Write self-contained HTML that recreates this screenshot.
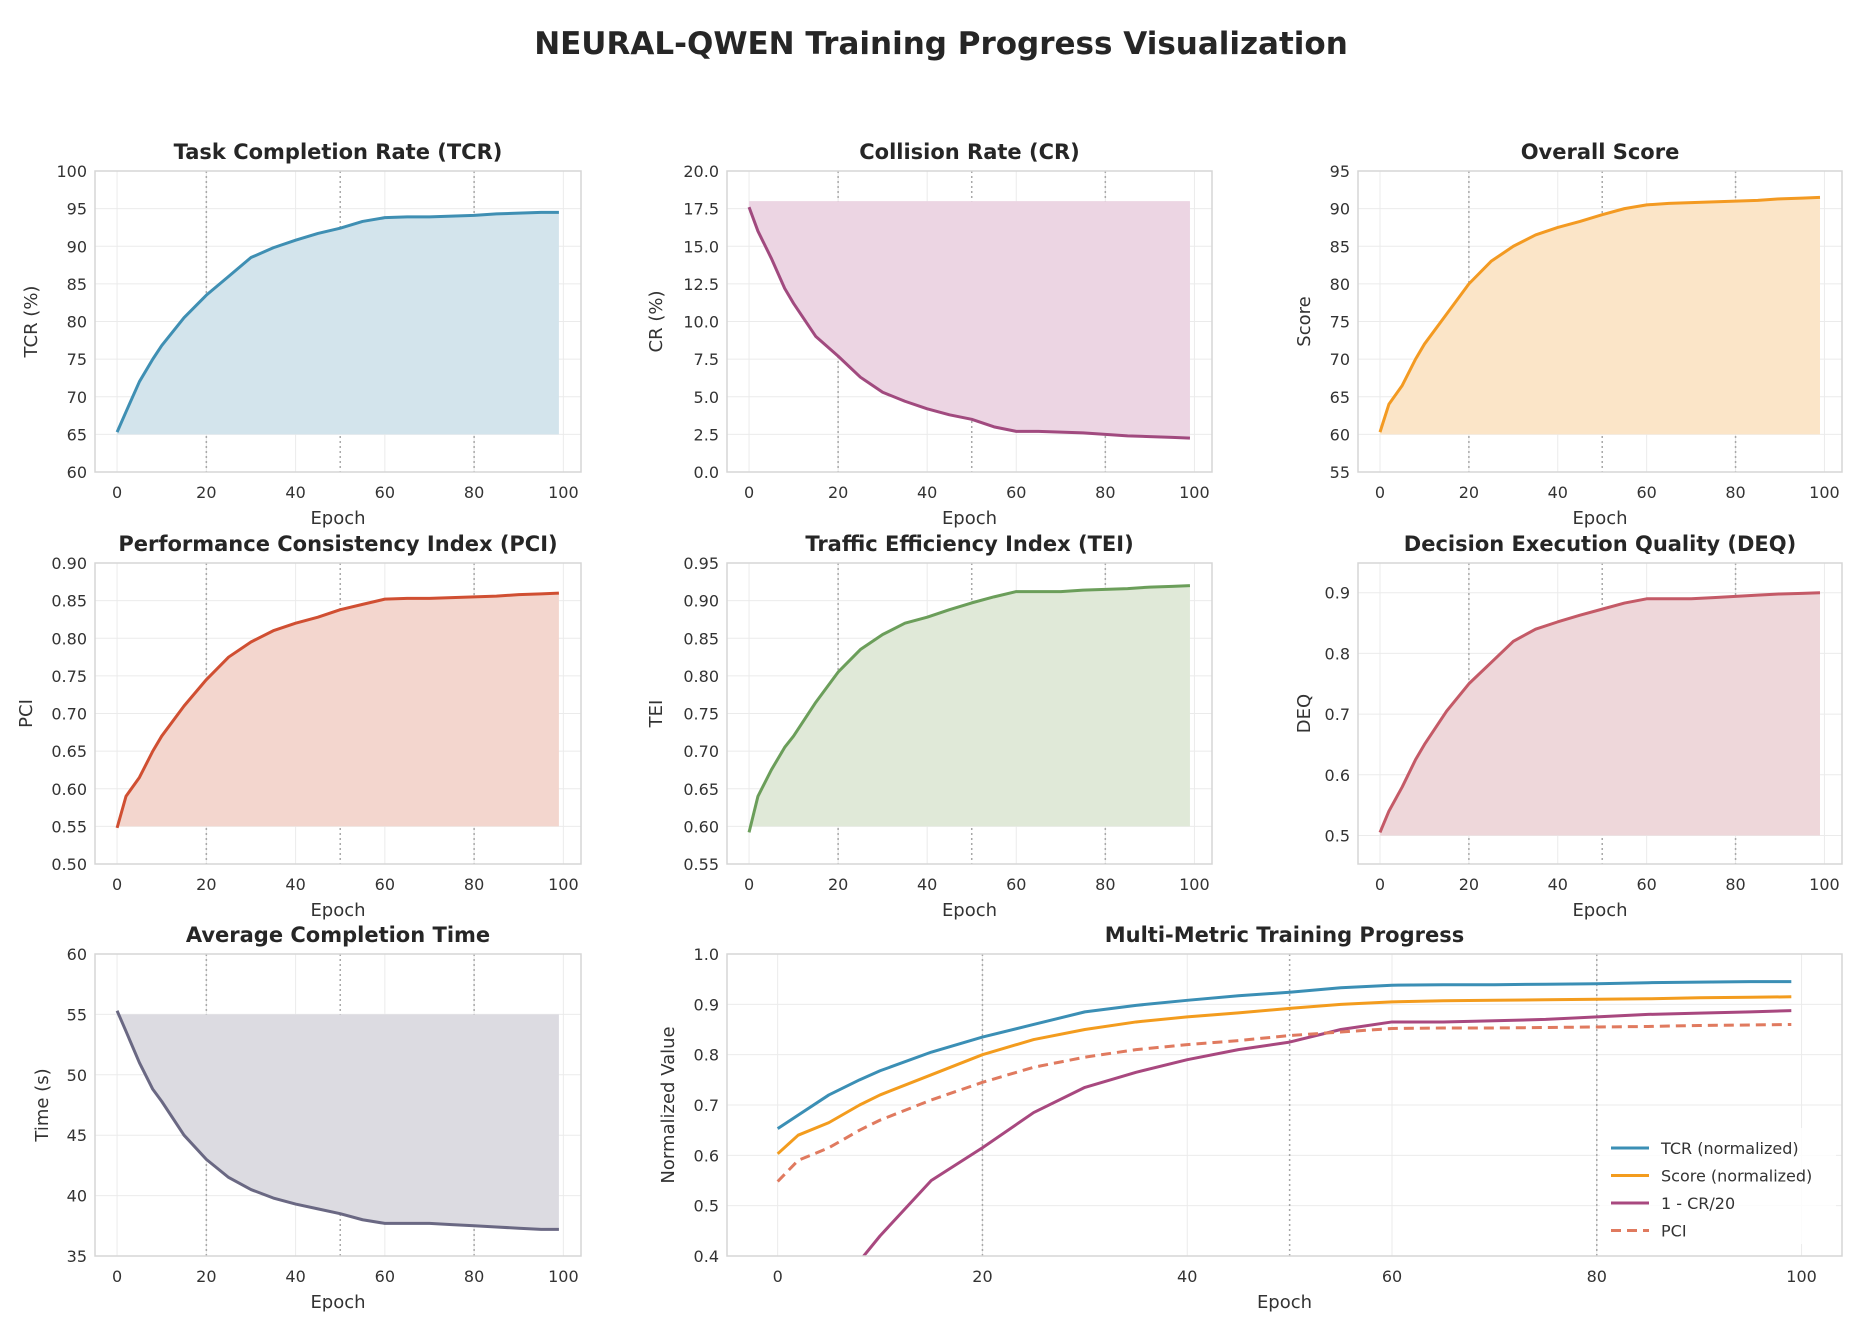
<!DOCTYPE html>
<html><head><meta charset="utf-8"><style>
html,body{margin:0;padding:0;background:#fff;width:1861px;height:1330px;overflow:hidden;}
svg{display:block;font-family:"DejaVu Sans","Liberation Sans",sans-serif;}
</style></head><body>
<svg id="fig" width="1861" height="1330" viewBox="0 0 1861 1330" xmlns="http://www.w3.org/2000/svg">
<text x="941" y="54" text-anchor="middle" font-size="31" font-weight="bold" fill="#262626">NEURAL-QWEN Training Progress Visualization</text>
</svg>
<script>
const epochs = [0,2,5,8,10,15,20,25,30,35,40,45,50,55,60,65,70,75,80,85,90,95,99];
const tcrValues = [65.3,68,72,75,76.8,80.5,83.5,86,88.5,89.8,90.8,91.7,92.4,93.3,93.8,93.9,93.9,94.0,94.1,94.3,94.4,94.5,94.5];
const crValues = [17.6,16,14.2,12.2,11.2,9,7.7,6.3,5.3,4.7,4.2,3.8,3.5,3.0,2.7,2.7,2.65,2.6,2.5,2.4,2.35,2.3,2.25];
const scoreValues = [60.3,64,66.5,70,72,76,80,83,85,86.5,87.5,88.3,89.2,90,90.5,90.7,90.8,90.9,91,91.1,91.3,91.4,91.5];
const pciValues = [0.548,0.59,0.615,0.65,0.67,0.71,0.745,0.775,0.795,0.81,0.82,0.828,0.838,0.845,0.852,0.853,0.853,0.854,0.855,0.856,0.858,0.859,0.86];
const teiValues = [0.592,0.64,0.675,0.705,0.72,0.765,0.805,0.835,0.855,0.87,0.878,0.888,0.897,0.905,0.912,0.912,0.912,0.914,0.915,0.916,0.918,0.919,0.92];
const deqValues = [0.505,0.54,0.58,0.625,0.65,0.705,0.75,0.785,0.82,0.84,0.852,0.863,0.873,0.883,0.89,0.89,0.89,0.892,0.894,0.896,0.898,0.899,0.9];
const timeValues = [55.3,53.6,51,48.8,47.8,45,43,41.5,40.5,39.8,39.3,38.9,38.5,38,37.7,37.7,37.7,37.6,37.5,37.4,37.3,37.2,37.2];
const xTicks = [0,20,40,60,80,100];
const NS='http://www.w3.org/2000/svg';
const svg=document.getElementById('fig');
function mk(tag,attrs,parent){const e=document.createElementNS(NS,tag);for(const k in attrs)e.setAttribute(k,attrs[k]);(parent||svg).appendChild(e);return e;}
function fmt(v,dec){return v.toFixed(dec);}

function panel(cfg){
  const g=mk('g',{});
  
  
  const {x0,x1,y0,y1,ymin,ymax}=cfg;
  const sx=v=>x0+(v+4.95)/(108.9)*(x1-x0);
  const sy=v=>y1-(v-ymin)/(ymax-ymin)*(y1-y0);
  mk('rect',{x:x0,y:y0,width:x1-x0,height:y1-y0,fill:'#fff'},g);
  cfg.yTicks.forEach(t=>{
    mk('line',{x1:x0,x2:x1,y1:sy(t),y2:sy(t),stroke:'#ebebeb','stroke-width':1},g);
    const tl=mk('text',{x:x0-8,y:sy(t)+6,'text-anchor':'end','font-size':16,fill:'#333'},g);
    tl.textContent=fmt(t,cfg.dec);
    
    
  });
  xTicks.forEach(t=>{
    mk('line',{x1:sx(t),x2:sx(t),y1:y0,y2:y1,stroke:'#ebebeb','stroke-width':1},g);
    const tl=mk('text',{x:sx(t),y:y1+26,'text-anchor':'middle','font-size':16,fill:'#333'},g);
    tl.textContent=t;
    
    
  });
  [20,50,80].forEach(t=>{
    const l=mk('line',{x1:sx(t),x2:sx(t),y1:y0,y2:y1,stroke:'#a8a8a8','stroke-width':1.5,'stroke-dasharray':'2,3'},g);
    
    
  });
  cfg.series.forEach(s=>{
    const pts=epochs.map((e,i)=>sx(e)+','+sy(s.values[i]));
    if(s.fillBase!==undefined){
      const poly=mk('polygon',{points:pts.join(' ')+' '+sx(epochs[epochs.length-1])+','+sy(s.fillBase)+' '+sx(epochs[0])+','+sy(s.fillBase),fill:s.fill},g);
      
      
    }
  });
  cfg.series.forEach(s=>{
    const pl=mk('polyline',{points:epochs.map((e,i)=>sx(e)+','+sy(s.values[i])).join(' '),fill:'none',stroke:s.color,'stroke-width':3,'stroke-linejoin':'round','stroke-dasharray':s.dash||'none'},g);
    
    
  });
  const cp=mk('clipPath',{id:'c'+cfg.name},g);
  mk('rect',{x:x0,y:y0,width:x1-x0,height:y1-y0},cp);
  g.querySelectorAll('polyline,polygon').forEach(e=>e.setAttribute('clip-path','url(#c'+cfg.name+')'));
  mk('rect',{x:x0,y:y0,width:x1-x0,height:y1-y0,fill:'none',stroke:'#d6d6d6','stroke-width':1.5},g);
  const t=mk('text',{x:(x0+x1)/2,y:y0-12,'text-anchor':'middle','font-size':21,'font-weight':'bold',fill:'#262626'},g);
  t.textContent=cfg.title;
  
  
  const xl=mk('text',{x:(x0+x1)/2,y:y1+52,'text-anchor':'middle','font-size':18,fill:'#333'},g);
  xl.textContent='Epoch';
  
  
  const yl=mk('text',{x:0,y:0,'text-anchor':'middle','font-size':18,fill:'#333',transform:`translate(${cfg.ylx},${(y0+y1)/2}) rotate(-90)`},g);
  yl.textContent=cfg.ylabel;
  
  
  return {g,sx,sy};
}
const R=[[171,472],[563,864],[954,1256]];
const C=[[95,581],[727,1212],[1358,1842]];
function ticks(a,b,s){const r=[];for(let v=a;v<=b+1e-9;v+=s)r.push(Math.round(v*1000)/1000);return r;}
panel({name:'tcr-panel',title:'Task Completion Rate (TCR)',ylabel:'TCR (%)',x0:C[0][0],x1:C[0][1],y0:R[0][0],y1:R[0][1],ymin:60,ymax:100,yTicks:ticks(60,100,5),dec:0,ylx:37,
  series:[{id:'tcr',values:tcrValues,color:'#3f8fb3',fill:'#d3e4ec',fillBase:65}]});
panel({name:'cr-panel',title:'Collision Rate (CR)',ylabel:'CR (%)',x0:C[1][0],x1:C[1][1],y0:R[0][0],y1:R[0][1],ymin:0,ymax:20,yTicks:ticks(0,20,2.5),dec:1,ylx:662,
  series:[{id:'cr',values:crValues,color:'#a14a7f',fill:'#ecd5e3',fillBase:18}]});
panel({name:'score-panel',title:'Overall Score',ylabel:'Score',x0:C[2][0],x1:C[2][1],y0:R[0][0],y1:R[0][1],ymin:55,ymax:95,yTicks:ticks(55,95,5),dec:0,ylx:1310,
  series:[{id:'score',values:scoreValues,color:'#f39a22',fill:'#fbe5c8',fillBase:60}]});
panel({name:'pci-panel',title:'Performance Consistency Index (PCI)',ylabel:'PCI',x0:C[0][0],x1:C[0][1],y0:R[1][0],y1:R[1][1],ymin:0.5,ymax:0.9,yTicks:ticks(0.5,0.9,0.05),dec:2,ylx:32,
  series:[{id:'pci',values:pciValues,color:'#d04f32',fill:'#f3d6ce',fillBase:0.55}]});
panel({name:'tei-panel',title:'Traffic Efficiency Index (TEI)',ylabel:'TEI',x0:C[1][0],x1:C[1][1],y0:R[1][0],y1:R[1][1],ymin:0.55,ymax:0.95,yTicks:ticks(0.55,0.95,0.05),dec:2,ylx:662,
  series:[{id:'tei',values:teiValues,color:'#6b9e5a',fill:'#e0e9d8',fillBase:0.6}]});
panel({name:'deq-panel',title:'Decision Execution Quality (DEQ)',ylabel:'DEQ',x0:C[2][0],x1:C[2][1],y0:R[1][0],y1:R[1][1],ymin:0.453,ymax:0.949,yTicks:ticks(0.5,0.9,0.1),dec:1,ylx:1310,
  series:[{id:'deq',values:deqValues,color:'#c45a67',fill:'#eed7da',fillBase:0.5}]});
panel({name:'time-panel',title:'Average Completion Time',ylabel:'Time (s)',x0:C[0][0],x1:C[0][1],y0:R[2][0],y1:R[2][1],ymin:35,ymax:60,yTicks:ticks(35,60,5),dec:0,ylx:48,
  series:[{id:'time',values:timeValues,color:'#6a6883',fill:'#dcdbe1',fillBase:55}]});
const tcrNorm=tcrValues.map(v=>v/100), scoreNorm=scoreValues.map(v=>v/100), crInv=crValues.map(v=>1-v/20);
const multiColors=['#3b8fb5','#f39c1e','#a8487f','#e07a5f'];
const multiLabels=['TCR (normalized)','Score (normalized)','1 - CR/20','PCI'];
const m=panel({name:'multi-metric-panel',title:'Multi-Metric Training Progress',ylabel:'Normalized Value',x0:C[1][0],x1:C[2][1],y0:R[2][0],y1:R[2][1],ymin:0.4,ymax:1.0,yTicks:ticks(0.4,1.0,0.1),dec:1,ylx:674,
  series:[{id:'tcr-norm',values:tcrNorm,color:multiColors[0]},{id:'score-norm',values:scoreNorm,color:multiColors[1]},{id:'cr-inv',values:crInv,color:multiColors[2]},{id:'pci-multi',values:pciValues,color:multiColors[3],dash:'10,6'}]});
const lg=mk('g',{});


mk('rect',{x:1600,y:1128,width:236,height:116,fill:'#fff','fill-opacity':0.85,rx:4},lg);
multiLabels.forEach((l,i)=>{
  const y=1148+i*27.5;
  const e=mk('g',{},lg);
  
  
  mk('line',{x1:1611,x2:1649,y1:y,y2:y,stroke:multiColors[i],'stroke-width':3,'stroke-dasharray':i==3?'10,6':'none'},e);
  const t=mk('text',{x:1661,y:y+6,'font-size':16,fill:'#333'},e);
  t.textContent=l;
});
</script>
</body></html>
